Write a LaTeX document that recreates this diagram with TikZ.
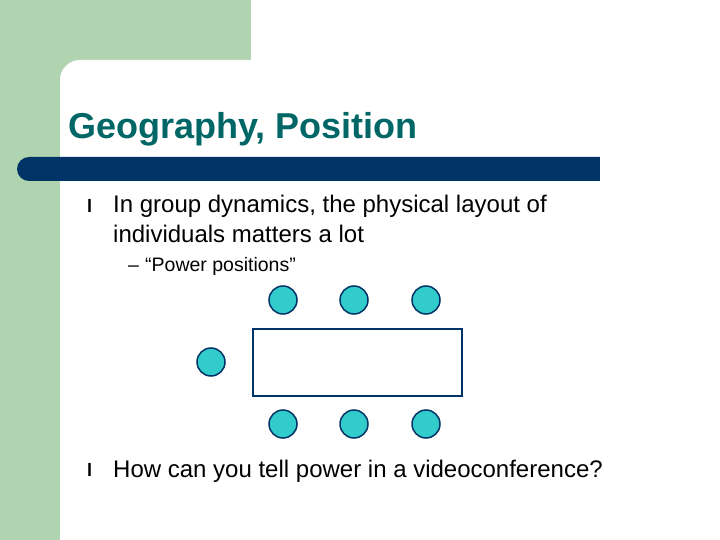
\documentclass[tikz,border=0pt]{standalone}
\usepackage{fontspec}
\setmainfont{Liberation Sans}
\definecolor{gr}{HTML}{B0D4B0}
\definecolor{bar}{HTML}{003366}
\definecolor{ttl}{HTML}{006666}
\definecolor{seat}{HTML}{33CCCC}
\begin{document}
\begin{tikzpicture}[x=1pt,y=-1pt,
  seatc/.style={circle,draw=bar,line width=1.5pt,fill=seat,minimum size=28pt,inner sep=0pt},
  txt/.style={anchor=base west,inner sep=0pt,font=\fontsize{24}{28}\selectfont}]
\useasboundingbox (0,0) rectangle (720,540);
\fill[white] (0,0) rectangle (720,540);
\fill[gr] (0,0) rectangle (251,60);
\fill[gr] (0,0) rectangle (60,540);
\fill[gr] (0,0) rectangle (90,90);
\fill[white,rounded corners=20pt] (60,60) rectangle (740,560);
\fill[bar,rounded corners=12pt] (17,157) rectangle (620,181);
\fill[white] (600,150) rectangle (720,190);
\node[txt,font=\fontsize{36}{40}\selectfont\bfseries,text=ttl] (title) at (68,139) {Geography, Position};
\node[txt,font=\fontsize{18}{20}\selectfont\bfseries] (b1) at (87,212) {l};
\node[txt] (t1) at (113,213) {In group dynamics, the physical layout of};
\node[txt] (t1b) at (113,242) {individuals matters a lot};
\node[txt,font=\fontsize{19.5}{22}\selectfont] (d1) at (128,271) {–};
\node[txt,font=\fontsize{19.5}{22}\selectfont] (t2) at (145,271) {“Power positions”};
\node[txt,font=\fontsize{18}{20}\selectfont\bfseries] (b2) at (87,476) {l};
\node[txt] (t3) at (113,477) {How can you tell power in a videoconference?};
\node[draw=bar,line width=1.5pt,minimum width=209pt,minimum height=67pt,inner sep=0pt] (table) at (357.5,362.5) {};
\node[seatc] (s1) at (283,300) {};
\node[seatc] (s2) at (354,300) {};
\node[seatc] (s3) at (426,300) {};
\node[seatc] (s4) at (283,424) {};
\node[seatc] (s5) at (354,424) {};
\node[seatc] (s6) at (426,424) {};
\node[seatc] (s7) at (211,362) {};
\end{tikzpicture}
\end{document}
